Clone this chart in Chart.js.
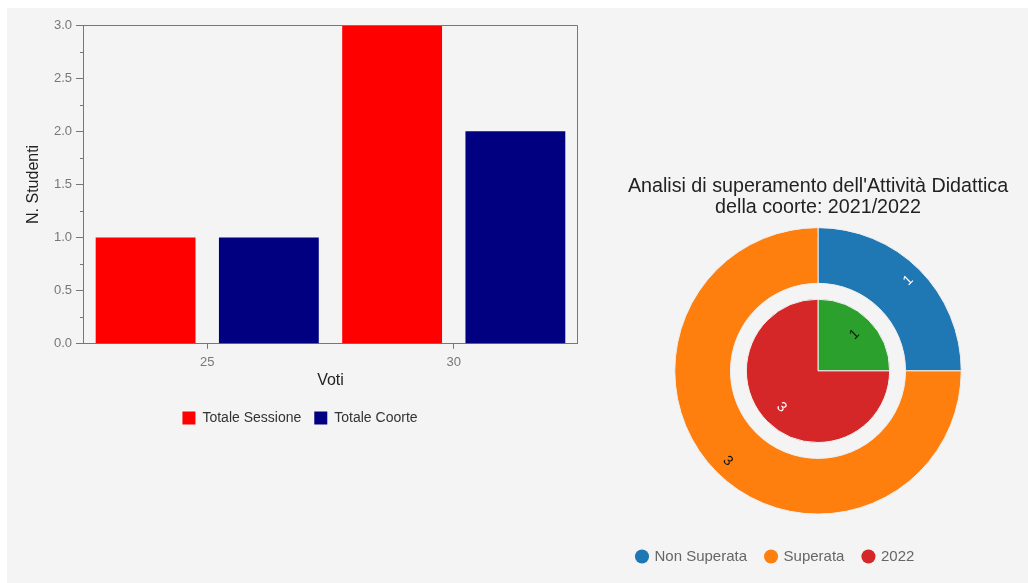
<!DOCTYPE html>
<html>
<head>
<meta charset="utf-8">
<title>Analisi voti</title>
<script src="https://cdn.jsdelivr.net/npm/chart.js@4.4.1/dist/chart.umd.min.js"></script>
<style>
  body { margin: 0; background: #fff; width: 1028px; height: 583px; overflow: hidden; position: relative; }
  #panel { position: absolute; left: 7px; top: 8px; right: 0; bottom: 0; background: #f4f4f4; }
  #barBox { position: absolute; left: 8px; top: 8px; width: 584px; height: 427px; }
  #pieBox { position: absolute; left: 618px; top: 164px; width: 400px; height: 410px; }
</style>
</head>
<body>
<div id="panel"></div>
<div id="barBox"><canvas id="barChart"></canvas></div>
<div id="pieBox"><canvas id="pieChart"></canvas></div>

<script>
// voti e numero di studenti
const voti = ['25', '30'];
const totaleSessione = [1, 3];
const totaleCoorte = [1, 2];
const yTicks = [0, 0.5, 1, 1.5, 2, 2.5, 3];

// superamento attività didattica
const esitiCoorte = [1, 3];      // anello esterno: Non Superata, Superata
const esiti2022 = [1, 3];        // torta interna
const legendaTorta = ['Non Superata', 'Superata', '2022'];

const coloriCoorte = ['#1f77b4', '#ff7f0e'];
const colori2022 = ['#2ca02c', '#d62728'];
const coloriLegenda = ['#1f77b4', '#ff7f0e', '#d62728'];

Chart.defaults.font.family = 'Arial, "Liberation Sans", sans-serif';
Chart.defaults.animation = false;

const GRIGIO = '#777';

// cornice sopra e a destra + tacche minori sull'asse y
const boxPlugin = {
  id: 'boxPlugin',
  afterDraw(chart) {
    const {ctx, chartArea} = chart;
    const y = chart.scales.y;
    ctx.save();
    ctx.strokeStyle = GRIGIO;
    ctx.lineWidth = 1;
    ctx.beginPath();
    const top = Math.round(chartArea.top) + 0.5;
    const right = Math.round(chartArea.right) + 0.5;
    ctx.moveTo(chartArea.left, top);
    ctx.lineTo(right, top);
    ctx.lineTo(right, chartArea.bottom);
    for (let i = 0; i < yTicks.length - 1; i++) {
      const py = Math.round(y.getPixelForValue((yTicks[i] + yTicks[i + 1]) / 2)) + 0.5;
      ctx.moveTo(chartArea.left - 4, py);
      ctx.lineTo(chartArea.left, py);
    }
    ctx.stroke();
    ctx.restore();
  }
};

new Chart(document.getElementById('barChart'), {
  type: 'bar',
  data: {
    labels: voti,
    datasets: [
      { label: 'Totale Sessione', data: totaleSessione, backgroundColor: '#ff0000' },
      { label: 'Totale Coorte', data: totaleCoorte, backgroundColor: '#000080' }
    ]
  },
  options: {
    responsive: true,
    maintainAspectRatio: false,
    categoryPercentage: 1,
    barPercentage: 0.81,
    layout: { padding: { left: 15, top: 17, right: 15, bottom: 0 } },
    plugins: {
      tooltip: { enabled: false },
      legend: {
        position: 'bottom',
        labels: { boxWidth: 13, boxHeight: 13, padding: 13, color: '#333', font: { size: 14 } }
      }
    },
    scales: {
      x: {
        grid: { drawOnChartArea: false, offset: false, tickLength: 5, color: GRIGIO },
        border: { color: GRIGIO },
        ticks: { color: GRIGIO, font: { size: 13 }, padding: 5.6 },
        title: { display: true, text: 'Voti', color: '#222', font: { size: 16 }, padding: { top: -4.3, bottom: 7.5 } }
      },
      y: {
        min: 0,
        max: 3,
        grid: { drawOnChartArea: false, tickLength: 8, color: GRIGIO },
        border: { color: GRIGIO },
        afterBuildTicks: (scale) => { scale.ticks = yTicks.map(v => ({ value: v })); },
        ticks: { color: GRIGIO, font: { size: 13 }, padding: 4, callback: v => Number(v).toFixed(1) },
        title: { display: true, text: 'N. Studenti', color: '#222', font: { size: 16 }, padding: { top: 0.9, bottom: 6.8 } }
      }
    }
  },
  plugins: [boxPlugin]
});

// valori scritti dentro gli spicchi, ruotati lungo il raggio o la tangente
function testoSuSfondo(hex) {
  const r = parseInt(hex.substr(1, 2), 16), g = parseInt(hex.substr(3, 2), 16), b = parseInt(hex.substr(5, 2), 16);
  return (0.299 * r + 0.587 * g + 0.114 * b) > 105 ? '#111' : '#fff';
}

const sliceText = {
  id: 'sliceText',
  afterDatasetsDraw(chart) {
    const ctx = chart.ctx;
    [0, 2].forEach(di => {
      const ds = chart.data.datasets[di];
      chart.getDatasetMeta(di).data.forEach((arc, j) => {
        const p = arc.getProps(['x', 'y', 'startAngle', 'endAngle', 'innerRadius', 'outerRadius'], true);
        const mid = (p.startAngle + p.endAngle) / 2;
        const r = p.innerRadius + (p.outerRadius - p.innerRadius) * 0.72;
        let rot = (p.endAngle - p.startAngle) > Math.PI ? mid + Math.PI / 2 : mid;
        while (rot > Math.PI / 2) rot -= Math.PI;
        while (rot <= -Math.PI / 2) rot += Math.PI;
        ctx.save();
        ctx.translate(p.x + Math.cos(mid) * r, p.y + Math.sin(mid) * r);
        ctx.rotate(rot);
        ctx.font = '14px Arial, "Liberation Sans", sans-serif';
        ctx.textAlign = 'center';
        ctx.textBaseline = 'middle';
        ctx.fillStyle = testoSuSfondo(ds.backgroundColor[j]);
        ctx.fillText(String(ds.data[j]), 0, 0);
        ctx.restore();
      });
    });
  }
};

new Chart(document.getElementById('pieChart'), {
  type: 'doughnut',
  data: {
    labels: ['Non Superata', 'Superata'],
    datasets: [
      { data: esitiCoorte, backgroundColor: coloriCoorte, borderColor: '#eeeeee', borderWidth: 1, weight: 56 },
      { data: [1], backgroundColor: 'rgba(0,0,0,0)', borderWidth: 0, weight: 16 },
      { data: esiti2022, backgroundColor: colori2022, borderColor: '#eeeeee', borderWidth: 1, weight: 72 }
    ]
  },
  options: {
    responsive: true,
    maintainAspectRatio: false,
    cutout: 0,
    events: [],
    plugins: {
      tooltip: { enabled: false },
      title: {
        display: true,
        text: ["Analisi di superamento dell'Attività Didattica", 'della coorte: 2021/2022'],
        color: '#222',
        font: { size: 19.7, weight: 'normal', lineHeight: 1.1 },
        padding: { top: 11.5, bottom: 8.3 }
      },
      legend: {
        position: 'bottom',
        align: 'start',
        title: { display: true, text: '', padding: { top: 0, bottom: 1 }, font: { size: 12 } },
        labels: {
          usePointStyle: true,
          pointStyle: 'circle',
          boxWidth: 10,
          boxHeight: 10,
          padding: 19,
          color: '#222',
          font: { size: 15 },
          generateLabels: () => legendaTorta.map((t, i) => ({
            text: t, fillStyle: coloriLegenda[i], strokeStyle: coloriLegenda[i],
            lineWidth: 0, pointStyle: 'circle', hidden: false, index: i
          }))
        }
      }
    }
  },
  plugins: [sliceText]
});
</script>
</body>
</html>
